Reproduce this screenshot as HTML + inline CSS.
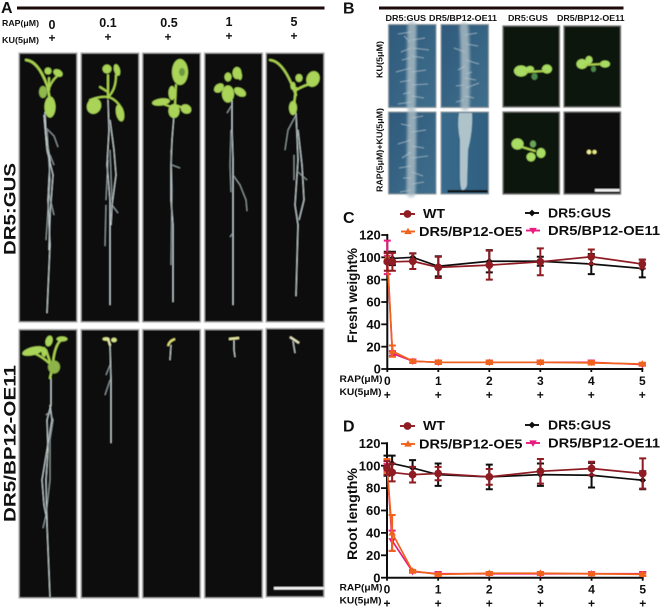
<!DOCTYPE html>
<html>
<head>
<meta charset="utf-8">
<title>Figure</title>
<style>
html,body{margin:0;padding:0;background:#fff;}
#fig{display:block;width:660px;height:612px;font-family:"Liberation Sans",sans-serif;}
text{font-family:"Liberation Sans",sans-serif;font-weight:bold;fill:#111;}
.panel{fill:#0b0d0f;stroke:#b0b0b0;stroke-width:1.2;}
.root{fill:none;stroke:#c6d2d2;stroke-width:1.05;stroke-linejoin:round;}
.rootf{fill:none;stroke:#a4b2b2;stroke-width:.8;}
.leaf{fill:#a9d458;}
.pet{fill:none;stroke:#a9d24f;stroke-width:2;stroke-linecap:round;}
.rimg{stroke:#8d9a9f;stroke-width:1;}
.dimg{fill:#0e150e;stroke:#6f6f6f;stroke-width:1.2;}
.hair{fill:none;stroke:#b9cdd6;stroke-width:.8;opacity:.75;}
.core{fill:none;stroke:#aebfc6;stroke-width:9;stroke-linecap:round;opacity:.8;}
.gl{fill:#a9dc62;}
</style>
</head>
<body>
<svg id="fig" xmlns="http://www.w3.org/2000/svg" width="660" height="612" viewBox="0 0 660 612">
<defs>
<linearGradient id="blueA" x1="0" y1="0" x2="1" y2="1"><stop offset="0" stop-color="#2f5a7c"/><stop offset="1" stop-color="#3f6f8c"/></linearGradient>
<linearGradient id="blueB" x1="0" y1="0" x2="1" y2="0"><stop offset="0" stop-color="#3a6b8c"/><stop offset="1" stop-color="#2f5f80"/></linearGradient>
<filter id="soft" x="-5%" y="-5%" width="110%" height="110%"><feGaussianBlur stdDeviation="0.5"/></filter>
<filter id="soft2" filterUnits="userSpaceOnUse" x="380" y="20" width="120" height="180"><feGaussianBlur stdDeviation="1.3"/></filter>
<filter id="chartsoft" x="-5%" y="-5%" width="110%" height="110%"><feGaussianBlur stdDeviation="0.3"/></filter>
</defs>

<!-- Panel A header -->
<g>
<text x="1" y="13" font-size="16">A</text>
<rect x="17" y="6.5" width="307.5" height="3" fill="#1a0a08"/>
<text x="2" y="26" font-size="8.5" textLength="37" lengthAdjust="spacingAndGlyphs">RAP(μM)</text>
<text x="2" y="43" font-size="8.5" textLength="37" lengthAdjust="spacingAndGlyphs">KU(5μM)</text>
<text x="52" y="29" font-size="12.5" text-anchor="middle">0</text>
<text x="108" y="27" font-size="12.5" text-anchor="middle">0.1</text>
<text x="169" y="27" font-size="12.5" text-anchor="middle">0.5</text>
<text x="229" y="26" font-size="12.5" text-anchor="middle">1</text>
<text x="294" y="26" font-size="12.5" text-anchor="middle">5</text>
<text x="52" y="42" font-size="12" text-anchor="middle">+</text>
<text x="108" y="41" font-size="12" text-anchor="middle">+</text>
<text x="168" y="41" font-size="12" text-anchor="middle">+</text>
<text x="229" y="40" font-size="12" text-anchor="middle">+</text>
<text x="294" y="40" font-size="12" text-anchor="middle">+</text>
<text transform="translate(15.5,255) rotate(-90)" font-size="17" textLength="92" lengthAdjust="spacingAndGlyphs">DR5:GUS</text>
<text transform="translate(15.5,522) rotate(-90)" font-size="17" textLength="157" lengthAdjust="spacingAndGlyphs">DR5/BP12-OE11</text>
</g>

<!-- Panel A photographs -->
<g filter="url(#soft)">
<rect class="panel" x="19" y="53" width="58" height="269"/>
<rect class="panel" x="81" y="53" width="58" height="269"/>
<rect class="panel" x="142.5" y="53" width="58" height="269"/>
<rect class="panel" x="204.5" y="53" width="58" height="269"/>
<rect class="panel" x="266" y="53" width="58" height="269"/>
<rect class="panel" x="19" y="329.5" width="58" height="268.5"/>
<rect class="panel" x="81" y="329.5" width="58" height="268.5"/>
<rect class="panel" x="142.5" y="329.5" width="58" height="268.5"/>
<rect class="panel" x="204.5" y="329.5" width="58" height="268.5"/>
<rect class="panel" x="266" y="328.5" width="58" height="268.5"/>

<!-- gus 0 -->
<g>
<path class="root" d="M45 112 L46 135 L50 160 L48 200 L50 245 L47 313"/>
<path class="root" d="M44 115 L47 150 L53 175 L50 215 L49 250"/>
<path class="rootf" d="M46 128 L54 136 L58 147 M50 155 L54 165 M48 190 L54 215 M47 130 L50 180 L46 240"/>
<path class="pet" style="stroke-width:2.4" d="M26 60 Q38 61 47 85 L50 100"/>
<path class="pet" d="M49 90 L49 78 M49 88 Q53 78 60 74"/>
<ellipse class="leaf" cx="50" cy="107" rx="5.5" ry="10.5"/>
<ellipse class="leaf" cx="43" cy="92" rx="4" ry="6" style="fill:#8fb84e"/>
<ellipse class="leaf" cx="48" cy="71" rx="3.5" ry="3.5"/>
<ellipse class="leaf" cx="58" cy="73" rx="5" ry="3.5" transform="rotate(30 58 73)"/>
</g>
<!-- gus 0.1 -->
<g>
<path class="root" d="M108 100 L109 130 L107 165 L110 200 L110 250 L110 305"/>
<path class="root" d="M110 120 L114 150 L116 175 L112 205 L111 225"/>
<path class="rootf" d="M106 205 L105 246 M112 205 L118 213 M108 160 L106 200 M110 150 L112 200"/>
<path class="pet" d="M108 98 L108 75 M108 97 Q116 90 116 75 M108 97 Q100 96 90 100 M109 97 Q117 100 121 108 M108 92 L100 87"/>
<ellipse class="leaf" cx="94" cy="106" rx="7" ry="8" transform="rotate(25 94 106)"/>
<ellipse class="leaf" cx="120" cy="113" rx="4" ry="8.5" transform="rotate(-12 120 113)"/>
<ellipse class="leaf" cx="107" cy="69" rx="4.5" ry="4.5"/>
<ellipse class="leaf" cx="117" cy="70" rx="3" ry="6" transform="rotate(-15 117 70)"/>
</g>
<!-- gus 0.5 -->
<g>
<path class="root" d="M174 115 L172 140 L171 165 L171 200 L173 225 L173 302"/>
<path class="rootf" d="M171 150 L172 190 L171 265 M172 165 L180 168"/>
<path class="pet" d="M175 105 L176 85 M174 108 L158 102 M175 105 L186 109"/>
<ellipse class="leaf" cx="180" cy="72" rx="8" ry="13"/>
<ellipse cx="182" cy="72" rx="3" ry="4" fill="#6d9a3c"/>
<ellipse class="leaf" cx="174" cy="111" rx="5.5" ry="7"/>
<ellipse class="leaf" cx="161" cy="102" rx="9" ry="3.5" transform="rotate(-8 161 102)"/>
<ellipse class="leaf" cx="186" cy="109" rx="5.5" ry="4.5" transform="rotate(25 186 109)"/>
<ellipse class="leaf" cx="172" cy="93" rx="3.5" ry="7"/>
</g>
<!-- gus 1 -->
<g>
<path class="root" d="M232 100 L232 130 L233 160 L233 200 L233 305"/>
<path class="rootf" d="M232 105 L227 113 M231 130 L230 165 L231 192 M233 175 L240 185 L246 200 L247 211 M233 233 L230 237"/>
<ellipse class="leaf" cx="228" cy="94" rx="6" ry="8.5"/>
<ellipse class="leaf" cx="219" cy="88" rx="5.5" ry="4" transform="rotate(-40 219 88)"/>
<ellipse class="leaf" cx="240" cy="92" rx="6.5" ry="4" transform="rotate(30 240 92)"/>
<ellipse class="leaf" cx="228" cy="77" rx="3.5" ry="4.5"/>
<ellipse class="leaf" cx="237" cy="73" rx="4.5" ry="6"/>
<ellipse class="leaf" cx="240" cy="76" rx="2" ry="4"/>
</g>
<!-- gus 5 -->
<g>
<path class="root" d="M296 113 L297 135 L298 160 L295 205 L298 225 L296 296"/>
<path class="root" d="M298 130 L302 165 L304 200 L299 220"/>
<path class="rootf" d="M296 115 L288 130 L285 150 M294 155 L294 180 M298 172 L307 180"/>
<path class="pet" style="stroke-width:2.2" d="M270 60 Q282 61 292 85 L296 95 M296 88 L294 105 M296 90 Q305 85 310 84"/>
<ellipse class="leaf" cx="313" cy="79" rx="6.5" ry="8" transform="rotate(20 313 79)"/>
<ellipse class="leaf" cx="293" cy="108" rx="4" ry="7"/>
<ellipse class="leaf" cx="299" cy="78" rx="3.5" ry="4"/>
<ellipse class="leaf" cx="293" cy="86" rx="2.5" ry="4"/>
</g>
<!-- oe11 0 -->
<g>
<path class="root" d="M51 378 L51 405 L47 420 L48 450 L46 480 L47 525 L50 597"/>
<path class="root" d="M50 405 L52 420 L47 450 L42 480 L44 505 L47 520"/>
<path class="rootf" d="M46 415 L50 412 L53 420 L50 440 L50 480 L46 515 L43 528"/>
<path class="pet" style="stroke-width:2.2" d="M28 351 Q42 355 52 366 M50 362 L46 350 M53 362 Q55 345 61 340 M53 365 L50 378"/>
<ellipse class="leaf" cx="33" cy="351" rx="11" ry="4" transform="rotate(-15 33 351)"/>
<ellipse class="leaf" cx="49" cy="341" rx="3.5" ry="5.5" transform="rotate(15 49 341)"/>
<ellipse class="leaf" cx="62" cy="339" rx="5.5" ry="2.5"/>
<ellipse class="leaf" cx="44" cy="352" rx="2.5" ry="5"/>
<ellipse class="leaf" cx="54" cy="367" rx="6" ry="6.5" style="fill:#8cb44a"/>
</g>
<!-- oe11 small seedlings -->
<g>
<path class="root" d="M110 345 L111 380 L111 443"/>
<path class="rootf" d="M110 365 L106 375 M110 380 L105 395"/>
<ellipse cx="106" cy="339" rx="3.5" ry="1.8" fill="#d9e58a"/>
<ellipse cx="114" cy="340" rx="2.8" ry="2.2" fill="#d9e58a"/>
<path class="pet" d="M108 339 L110 345" style="stroke:#e8eeb0"/>
</g>
<g>
<path class="root" d="M171 345 L170 360"/>
<path d="M168 346 Q169 341 175 339" fill="none" stroke="#e4e27a" stroke-width="2"/>
</g>
<g>
<path class="root" d="M234 340 L234 350 L235 357"/>
<path d="M229 339 L239 338" fill="none" stroke="#e8e8a0" stroke-width="2.2"/>
</g>
<g>
<path class="root" d="M293 341 L295 353"/>
<path d="M290 337 L299 343" fill="none" stroke="#e8e8c0" stroke-width="2"/>
</g>
<rect x="274" y="587" width="50" height="2.5" fill="#f4f4f4"/>
</g>

<!-- Panel B -->
<g>
<text x="343" y="13.5" font-size="16">B</text>
<rect x="379" y="6.5" width="244.5" height="3" fill="#1a0a08"/>
<text x="385.5" y="21" font-size="8" textLength="40.5" lengthAdjust="spacingAndGlyphs">DR5:GUS</text>
<text x="429" y="21" font-size="8" textLength="68" lengthAdjust="spacingAndGlyphs">DR5/BP12-OE11</text>
<text x="508" y="21" font-size="8" textLength="40" lengthAdjust="spacingAndGlyphs">DR5:GUS</text>
<text x="557" y="21" font-size="8" textLength="67.5" lengthAdjust="spacingAndGlyphs">DR5/BP12-OE11</text>
<text transform="translate(382.5,78) rotate(-90)" font-size="8.5" textLength="37" lengthAdjust="spacingAndGlyphs">KU(5μM)</text>
<text transform="translate(382.5,192) rotate(-90)" font-size="8.5" textLength="84" lengthAdjust="spacingAndGlyphs">RAP(5μM)+KU(5μM)</text>

<g filter="url(#soft)">
<rect class="rimg" x="388.5" y="24.5" width="47.5" height="83" fill="url(#blueA)"/>
<rect class="rimg" x="441" y="24.5" width="47.5" height="83" fill="url(#blueA)"/>
<rect class="rimg" x="388.5" y="112" width="47.5" height="82" fill="url(#blueA)"/>
<rect class="rimg" x="441" y="112" width="47.5" height="82" fill="url(#blueB)"/>

<g>
<path class="core" filter="url(#soft2)" d="M412 26 L411 106"/>
<path class="hair" d="M411 32 L398 34 M412 40 L425 38 M411 48 L401 52 M413 48 L429 50 M412 56 L424 58 M410 58 L402 60 M411 68 L396 72 M412 72 L426 70 M411 80 L400 82 M412 85 L428 84 M411 92 L403 94 M412 96 L424 98 M411 102 L398 104 M410 42 L404 36"/>
</g>
<g>
<path class="core" filter="url(#soft2)" d="M464 27 Q466 60 465 106"/>
<path class="hair" d="M465 35 L477 33 M466 44 L478 46 M465 52 L454 48 M466 60 L479 64 M465 66 L458 70 M466 74 L472 72 M465 78 L476 80 M464 85 L456 86 M466 88 L479 83 M465 96 L474 98 M464 100 L456 102"/>
</g>
<g>
<path class="core" filter="url(#soft2)" d="M412 113 L411 193"/>
<path class="hair" d="M412 118 L423 116 M411 126 L401 124 M412 132 L426 130 M411 140 L398 144 M412 146 L424 148 M411 152 L402 158 M412 158 L428 156 M411 166 L399 168 M412 172 L423 176 M411 178 L403 178 M412 184 L424 182 M411 190 L400 192"/>
</g>
<g>
<path d="M459 113 L472 113 Q473 130 468 150 L467 185 Q466 190 462 190 Q460 188 460 175 L460 140 Q457 125 459 113Z" fill="#aec3ca"/>
</g>

<rect class="dimg" x="503" y="26" width="56.5" height="81"/>
<rect class="dimg" x="564" y="26" width="56.5" height="81"/>
<rect class="dimg" x="503" y="112" width="56.5" height="82"/>
<rect class="dimg" x="564" y="112" width="56.5" height="82" style="fill:#0a100a"/>

<g>
<ellipse class="gl" cx="521" cy="71" rx="7" ry="5.5"/>
<ellipse class="gl" cx="547" cy="69" rx="5" ry="4.5"/>
<ellipse class="gl" cx="530" cy="69" rx="4" ry="3"/>
<path class="pet" d="M526 72 L545 71"/>
<ellipse cx="534.5" cy="76.5" rx="3" ry="3.5" fill="#4c8a48"/>
</g>
<g>
<ellipse class="gl" cx="582" cy="64" rx="5.5" ry="5"/>
<ellipse class="gl" cx="605" cy="64" rx="5" ry="3.5"/>
<ellipse class="gl" cx="589" cy="60" rx="3.5" ry="4"/>
<path class="pet" d="M585 65 L602 64"/>
<ellipse cx="593.5" cy="69" rx="2.5" ry="3" fill="#4c8a48"/>
</g>
<g>
<ellipse class="gl" cx="517.5" cy="144" rx="6" ry="5.5"/>
<ellipse class="gl" cx="541" cy="153" rx="4.5" ry="5"/>
<ellipse class="gl" cx="531" cy="157" rx="4.5" ry="4.5"/>
<ellipse cx="533" cy="144" rx="3" ry="3.5" fill="#6aa65a"/>
<path class="pet" d="M522 147 L535 151"/>
</g>
<g>
<circle cx="589" cy="152" r="2.2" fill="#f2f29a"/>
<circle cx="594.5" cy="152" r="2" fill="#e8ee80"/>
</g>
<rect x="447.5" y="190" width="40.5" height="2.5" fill="#0c0c0c"/>
<rect x="595" y="189" width="24.5" height="2.5" fill="#f4f4f4"/>
</g>
</g>

<g id="chart-c" filter="url(#chartsoft)"></g>
<g id="chart-d" filter="url(#chartsoft)"></g>
</svg>

<script>
// Shared axis data
const doses = [0, 0.1, 0.5, 1, 2, 3, 4, 5];
const xTickValues = [0, 1, 2, 3, 4, 5];
const yTickValues = [0, 20, 40, 60, 80, 100, 120];
const seriesNames = ['WT', 'DR5:GUS', 'DR5/BP12-OE5', 'DR5/BP12-OE11'];

// Panel C: Fresh weight %
const freshWT = [96, 96, 96.5, 91, 93, 96, 100.5, 94];
const freshWTErr = [8, 8, 7, 9.5, 13, 12, 6.5, 4];
const freshGUS = [100, 99, 100, 92, 96.5, 96.5, 94, 90];
const freshGUSErr = [5, 6, 3.5, 9, 10, 4, 9, 8];
const freshOE5 = [100, 16, 7, 6, 6, 6, 5.5, 4.5];
const freshOE5Err = [4, 5, 1, 1.5, 1.5, 1.5, 1.5, 1];
const freshOE11 = [100, 14, 7, 6, 6, 6, 6, 4];
const freshOE11Err = [15, 2, 1.5, 1.5, 1.5, 1.5, 1.5, 1];

// Panel D: Root length %
const rootWT = [98, 94, 92, 93, 90, 95, 97.5, 93];
const rootWTErr = [6, 8, 7, 6, 7, 11, 6, 13.5];
const rootGUS = [100, 102, 98, 92, 90, 92, 91.5, 87];
const rootGUSErr = [9, 7, 7, 10, 11, 10, 11, 8];
const rootOE5 = [100, 40, 6, 3, 4, 4, 3.5, 3];
const rootOE5Err = [6, 16, 1, 1, 1, 1, 1, 1];
const rootOE11 = [100, 33, 5.5, 3.5, 3.5, 3.5, 3.5, 3.5];
const rootOE11Err = [5, 9, 1, 1.5, 1, 1, 1, 1.5];

const NS = 'http://www.w3.org/2000/svg';
function mk(tag, attrs, parent, txt) {
  const e = document.createElementNS(NS, tag);
  for (const k in attrs) e.setAttribute(k, attrs[k]);
  if (txt !== undefined) e.textContent = txt;
  parent.appendChild(e);
  return e;
}
function marker(kind, x, y, color, parent) {
  let m;
  if (kind === 'circle') m = mk('circle', {cx: x, cy: y, r: 3.9, fill: color}, parent);
  else if (kind === 'diamond') m = mk('polygon', {points: [x, y - 3.4, x + 3.4, y, x, y + 3.4, x - 3.4, y].join(','), fill: color}, parent);
  else if (kind === 'up') m = mk('polygon', {points: [x, y - 3.8, x + 3.8, y + 2.6, x - 3.8, y + 2.6].join(','), fill: color}, parent);
  else m = mk('polygon', {points: [x, y + 3.8, x + 3.8, y - 2.6, x - 3.8, y - 2.6].join(','), fill: color}, parent);
  return m;
}
function drawChart(root, o) {
  const sx = v => o.x0 + v * (o.x5 - o.x0) / 5;
  const sy = v => o.y0 - v * (o.y0 - o.y120) / 120;

  const letter = mk('text', {x: 343, y: o.y120 - 12, 'font-size': 16}, root, o.letter);
  
  

  const axes = mk('g', {}, root);
  
  
  const yAxis = mk('line', {x1: o.x0, x2: o.x0, y1: o.y120 - 1, y2: o.y0 + 1, stroke: '#111', 'stroke-width': 2}, axes);
  
  
  const xAxis = mk('line', {x1: o.x0 - 1, x2: o.x5 + 1, y1: o.y0, y2: o.y0, stroke: '#111', 'stroke-width': 2}, axes);
  
  

  yTickValues.forEach(v => {
    mk('line', {x1: o.x0 - 6, x2: o.x0, y1: sy(v), y2: sy(v), stroke: '#111', 'stroke-width': 1.8}, axes);
    const t = mk('text', {x: o.x0 - 6.5, y: sy(v) + 4.6, 'text-anchor': 'end', 'font-size': 13}, axes, v);
    
    
  });
  xTickValues.forEach(v => {
    mk('line', {x1: sx(v), x2: sx(v), y1: o.y0, y2: o.y0 + 3, stroke: '#111', 'stroke-width': 1.8}, axes);
    const t = mk('text', {x: sx(v), y: o.y0 + 16, 'text-anchor': 'middle', 'font-size': 12}, axes, v);
    
    
    const p = mk('text', {x: sx(v), y: o.y0 + 30, 'text-anchor': 'middle', 'font-size': 12}, axes, '+');
    
    
  });
  const rapT = mk('text', {x: 339.5, y: o.y0 + 13, 'font-size': 9, textLength: 43, lengthAdjust: 'spacingAndGlyphs'}, axes, 'RAP(μM)');
  
  
  const kuT = mk('text', {x: 339.5, y: o.y0 + 26, 'font-size': 9, textLength: 42, lengthAdjust: 'spacingAndGlyphs'}, axes, 'KU(5μM)');
  
  

  const yTitle = mk('text', {
    transform: 'translate(' + o.titleX + ',' + o.titleBottom + ') rotate(-90)',
    'font-size': 14, textLength: o.titleLen, lengthAdjust: 'spacingAndGlyphs'
  }, root, o.title);
  
  

  o.series.forEach(s => {
    const g = mk('g', {}, root);
    
    
    const pts = doses.map((d, i) => sx(d) + ',' + sy(s.values[i])).join(' ');
    const line = mk('polyline', {points: pts, fill: 'none', stroke: s.color, 'stroke-width': 1.7}, g);
    
    
    doses.forEach((d, i) => {
      const x = sx(d), hi = sy(s.values[i] + s.errs[i]), lo = sy(Math.max(0, s.values[i] - s.errs[i]));
      const path = 'M' + x + ' ' + hi + 'V' + lo + 'M' + (x - 3.5) + ' ' + hi + 'H' + (x + 3.5) + 'M' + (x - 3.5) + ' ' + lo + 'H' + (x + 3.5);
      const eb = mk('path', {d: path, fill: 'none', stroke: s.color, 'stroke-width': 2}, g);
      
      
      const m = marker(s.kind, x, sy(s.values[i]), s.color, g);
      
      
    });
  });

  // legend
  const lg = mk('g', {}, root);
  
  
  const rows = [
    {name: seriesNames[0], kind: 'circle', color: o.colors[0], x1: 400, x2: 415, y: o.legY1 + 1, tx: 423, ty: o.legY1 + 5, len: 22},
    {name: seriesNames[1], kind: 'diamond', color: o.colors[1], x1: 525, x2: 539, y: o.legY1, tx: 548, ty: o.legY1 + 4.5, len: 63},
    {name: seriesNames[2], kind: 'up', color: o.colors[2], x1: 401, x2: 415, y: o.legY2, tx: 419, ty: o.legY2 + 4.5, len: 103.5},
    {name: seriesNames[3], kind: 'down', color: o.colors[3], x1: 526, x2: 540, y: o.legY2 - 1, tx: 548, ty: o.legY2 + 3.5, len: 112}
  ];
  rows.forEach(r => {
    const e = mk('g', {}, lg);
    
    
    mk('line', {x1: r.x1, x2: r.x2, y1: r.y, y2: r.y, stroke: r.color, 'stroke-width': 1.9}, e);
    marker(r.kind, (r.x1 + r.x2) / 2, r.y, r.color, e);
    mk('text', {x: r.tx, y: r.ty, 'font-size': 12.5, textLength: r.len, lengthAdjust: 'spacingAndGlyphs'}, e, r.name);
  });
}
const palette = ['#8e1a24', '#111111', '#f0641e', '#e81a7e'];
drawChart(document.getElementById('chart-c'), {
  letter: 'C', x0: 387.3, x5: 642.3, y0: 369, y120: 235,
  title: 'Fresh weight%', titleX: 357, titleBottom: 343, titleLen: 95,
  legY1: 213, legY2: 231.5, colors: palette,
  series: [
    {slug: 'dr5-gus', kind: 'diamond', color: palette[1], values: freshGUS, errs: freshGUSErr},
    {slug: 'dr5-bp12-oe11', kind: 'down', color: palette[3], values: freshOE11, errs: freshOE11Err},
    {slug: 'dr5-bp12-oe5', kind: 'up', color: palette[2], values: freshOE5, errs: freshOE5Err},
    {slug: 'wt', kind: 'circle', color: palette[0], values: freshWT, errs: freshWTErr}
  ]
});
drawChart(document.getElementById('chart-d'), {
  letter: 'D', x0: 387, x5: 642.7, y0: 577.7, y120: 443.3,
  title: 'Root length%', titleX: 357, titleBottom: 560, titleLen: 92,
  legY1: 425, legY2: 444, colors: palette,
  series: [
    {slug: 'dr5-gus', kind: 'diamond', color: palette[1], values: rootGUS, errs: rootGUSErr},
    {slug: 'dr5-bp12-oe11', kind: 'down', color: palette[3], values: rootOE11, errs: rootOE11Err},
    {slug: 'dr5-bp12-oe5', kind: 'up', color: palette[2], values: rootOE5, errs: rootOE5Err},
    {slug: 'wt', kind: 'circle', color: palette[0], values: rootWT, errs: rootWTErr}
  ]
});
</script>
</body>
</html>
